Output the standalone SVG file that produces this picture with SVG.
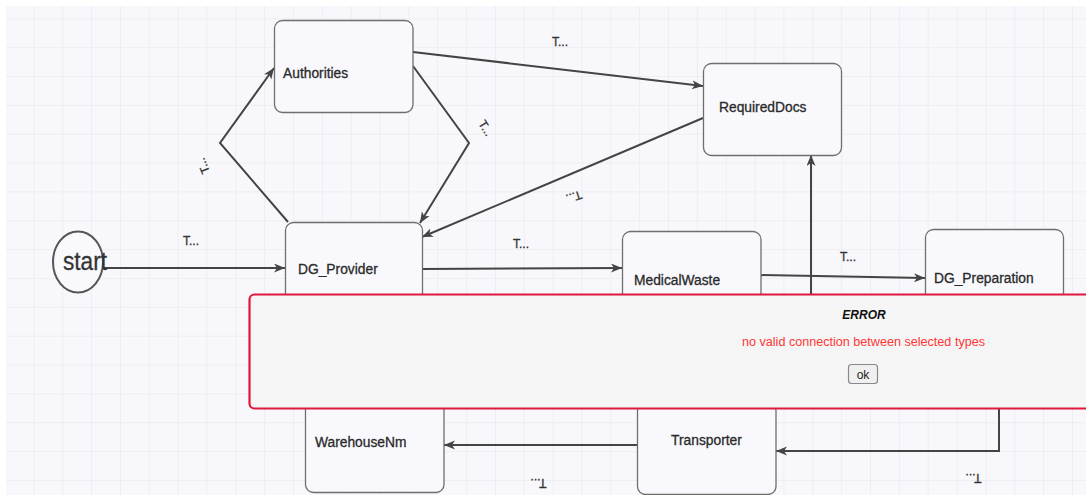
<svg xmlns="http://www.w3.org/2000/svg" width="1086" height="495" viewBox="0 0 1086 495">
  <defs>
    <pattern id="grid" patternUnits="userSpaceOnUse" x="4.5" y="-10.55" width="28.85" height="28.85">
      <path d="M0,0 V28.85 M0,0 H28.85" fill="none" stroke="#eaeaf0" stroke-width="1.6"/>
    </pattern>
    <marker id="arr" markerUnits="userSpaceOnUse" markerWidth="12" markerHeight="10" refX="11" refY="4.5" orient="auto">
      <path d="M0,0 L11,4.5 L0,9 L3,4.5 z" fill="#444"/>
    </marker>
    <style>
      .node rect { fill: #f9f9fd; stroke: #6e6e6e; stroke-width: 1.3; }
      .lbl { font-family: "Liberation Sans", Arial, sans-serif; font-size: 13.8px; fill: #2a2a2a; stroke: #2a2a2a; stroke-width: 0.3; }
      .edge { fill: none; stroke: #444; stroke-width: 2; marker-end: url(#arr); }
      .el { font-family: "Liberation Sans", Arial, sans-serif; font-size: 12px; fill: #333; stroke: #333; stroke-width: 0.3; }
    </style>
  </defs>

  <rect x="0" y="0" width="1086" height="495" fill="#ffffff"/>
  <rect x="6" y="6" width="1080" height="489" fill="#f8f8fc"/>
  <rect x="6" y="6" width="1080" height="489" fill="url(#grid)"/>

  <g id="connectors">
    <path class="edge" d="M100,268 H285"/>
    <path class="edge" d="M288,222 L220,143 L274,68"/>
    <path class="edge" d="M413,52 L703,86"/>
    <path class="edge" d="M413,66 L469,143 L420,223"/>
    <path class="edge" d="M703,118 L422,237"/>
    <path class="edge" d="M422,269 L622,268"/>
    <path class="edge" d="M755,275 L925,278"/>
    <path class="edge" d="M811,300 V155"/>
    <path class="edge" d="M999,405 V451 H776"/>
    <path class="edge" d="M637,445 H444"/>

    <text class="el" x="183" y="245">T...</text>
    <text class="el" x="513" y="248">T...</text>
    <text class="el" x="840" y="261">T...</text>
    <text class="el" x="552" y="46">T...</text>
    <text class="el" text-anchor="middle" y="4.3" transform="translate(486,128) rotate(58)">T...</text>
    <text class="el" text-anchor="middle" y="4.3" transform="translate(203,166) rotate(-112)">T...</text>
    <text class="el" text-anchor="middle" y="4.3" transform="translate(574,197) rotate(162)">T...</text>
    <text class="el" text-anchor="middle" y="4.3" transform="translate(538.5,483) rotate(180)">T...</text>
    <text class="el" text-anchor="middle" y="4.3" transform="translate(973.5,478) rotate(180)">T...</text>
  </g>

  <g id="start">
    <ellipse cx="78" cy="262" rx="25" ry="30.5" fill="#f9f9fd" stroke="#555" stroke-width="2"/>
    <text x="63" y="270" font-family="Liberation Sans, Arial, sans-serif" font-size="25" fill="#333" stroke="#333" stroke-width="0.3" textLength="44" lengthAdjust="spacingAndGlyphs">start</text>
  </g>

  <g id="Authorities" class="node">
    <rect x="274.5" y="20.5" width="138.5" height="92" rx="8"/>
    <text class="lbl" x="283" y="78">Authorities</text>
  </g>
  <g id="RequiredDocs" class="node">
    <rect x="703.5" y="63.5" width="138" height="92" rx="8"/>
    <text class="lbl" x="719" y="112">RequiredDocs</text>
  </g>
  <g id="DG_Provider" class="node">
    <rect x="285.5" y="222.5" width="137" height="92" rx="8"/>
    <text class="lbl" x="298" y="274">DG_Provider</text>
  </g>
  <g id="MedicalWaste" class="node">
    <rect x="622.5" y="231.5" width="138.5" height="92" rx="8"/>
    <text class="lbl" x="634" y="285">MedicalWaste</text>
  </g>
  <g id="DG_Preparation" class="node">
    <rect x="925.5" y="229.5" width="138" height="92" rx="8"/>
    <text class="lbl" x="934" y="283">DG_Preparation</text>
  </g>
  <g id="WarehouseNm" class="node">
    <rect x="305.5" y="400.5" width="138.5" height="92" rx="8"/>
    <text class="lbl" x="315" y="447">WarehouseNm</text>
  </g>
  <g id="Transporter" class="node">
    <rect x="637.5" y="402.5" width="138.5" height="92" rx="8"/>
    <text class="lbl" x="706.5" y="445" text-anchor="middle">Transporter</text>
  </g>

  <g id="error-dialog">
    <rect x="249.5" y="294.5" width="860" height="114" rx="5" fill="#f5f5f5" stroke="#e0173f" stroke-width="2.2"/>
    <text x="864" y="319" text-anchor="middle" font-family="Liberation Sans, Arial, sans-serif" font-size="12" font-weight="bold" font-style="italic" fill="#111">ERROR</text>
    <text x="742" y="346" font-family="Liberation Sans, Arial, sans-serif" font-size="12" fill="#ff3535" textLength="243" lengthAdjust="spacingAndGlyphs">no valid connection between selected types</text>
    <rect x="848.5" y="364.5" width="29" height="19" rx="3" fill="#f0f0f0" stroke="#8a8a8a" stroke-width="1.2"/>
    <text x="863" y="378.5" text-anchor="middle" font-family="Liberation Sans, Arial, sans-serif" font-size="12" fill="#222">ok</text>
  </g>
</svg>
